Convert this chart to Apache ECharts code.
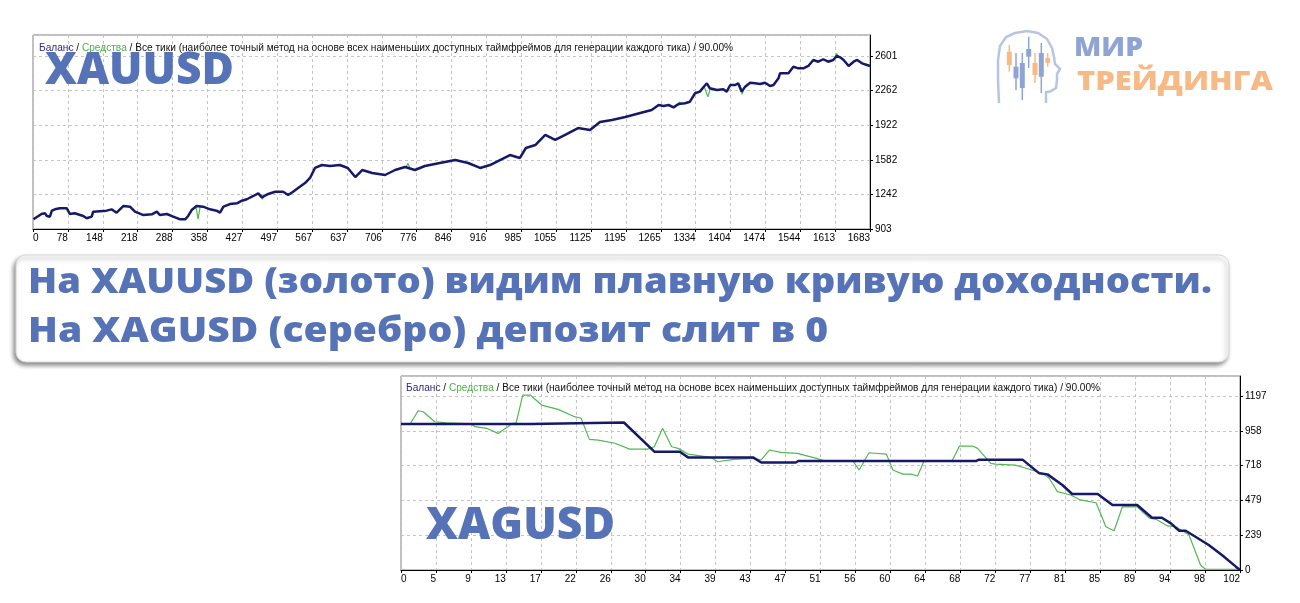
<!DOCTYPE html>
<html><head><meta charset="utf-8">
<script src="https://cdn.jsdelivr.net/npm/echarts@6/dist/echarts.min.js"></script>
<style>html,body{margin:0;padding:0;background:#fff}#c{width:1300px;height:603px}</style>
</head><body><div id="c"></div>
<script>
// ---------- XAUUSD ----------
const xauXLabels = ['0','78','148','218','288','358','427','497','567','637','706','776','846','916','985','1055','1125','1195','1265','1334','1404','1474','1544','1613','1683'];
const xauYLabels = ['903','1242','1582','1922','2262','2601'];
const xauTrades = [1,7,17,24,28,34,38,44,54,68,74,84,101,108,118,121,148,158,168,182,195,205,222,239,249,255,269,282,296,306,312,319,329,342,356,369,376,383,396,410,420,430,443,453,460,473,487,503,513,523,533,547,557,567,581,597,617,633,648,662,682,708,728,748,768,788,818,849,875,899,919,939,959,979,991,1010,1030,1050,1070,1096,1120,1140,1164,1191,1221,1244,1258,1268,1278,1288,1298,1311,1321,1331,1341,1348,1355,1361,1375,1388,1395,1402,1412,1418,1425,1432,1442,1452,1462,1472,1482,1489,1499,1502,1519,1529,1539,1549,1559,1569,1579,1589,1599,1609,1616,1623,1630,1640,1650,1657,1667,1677,1683];
const xauBalance = [998,1018,1050,1057,1031,1024,1083,1096,1106,1106,1050,1057,1031,1008,1024,1073,1083,1096,1063,1129,1122,1073,1040,1047,1073,1040,1050,1024,998,998,1031,1089,1129,1122,1096,1083,1063,1122,1148,1155,1181,1195,1227,1253,1214,1247,1269,1269,1237,1269,1305,1354,1404,1502,1531,1521,1531,1502,1413,1482,1453,1433,1482,1512,1482,1521,1551,1580,1551,1502,1531,1580,1629,1600,1698,1727,1826,1777,1826,1894,1875,1953,1973,2002,2041,2071,2120,2110,2120,2097,2130,2137,2152,2235,2251,2294,2333,2284,2267,2274,2251,2316,2316,2333,2251,2300,2339,2333,2326,2339,2307,2316,2382,2431,2431,2496,2480,2480,2503,2562,2545,2569,2545,2562,2601,2588,2562,2503,2545,2562,2529,2513,2503];
// equity deviations (short spikes, '-' breaks the line)
const xauEqTrades = [328,332,336,337,458,461,464,465,750,754,758,759,1296,1300,1304,1305,1350,1357,1362,1363,1422,1426,1430,1431,1612,1616,1620];
const xauEquity   = [1110,1000,1120,'-',1240,1195,1214,'-',1512,1545,1500,'-',2110,2150,2130,'-',2294,2200,2284,'-',2316,2225,2290,'-',2580,2625,2590];

// ---------- XAGUSD ----------
const xagXLabels = ['0','5','9','13','17','22','26','30','34','39','43','47','51','56','60','64','68','72','77','81','85','89','94','98','102'];
const xagYLabels = ['0','239','479','718','958','1197'];
const xagBalTrades = [0,15.8,15.9,27.1,30.8,33.9,34.9,42.8,43.8,48,48.3,69.9,70.2,75.6,77.6,78.6,80.4,81.6,84.7,86.5,89.5,91.3,92.5,93.6,94.6,95.4,98.2,99.8,101.5,102];
const xagBalance   = [1005,1005,1015,1015,814,814,775,775,740,740,750,750,758,758,665,658,585,523,523,447,447,360,360,321,270,270,172,103,23,0];
const xagEqTrades = [0,1.1,2.1,2.7,4.1,5.5,8.5,9,10.4,11.8,13,13.4,14,14.8,15.7,17.1,19.1,21.1,21.9,22.9,24,26,27.8,30,30.8,31.8,32.9,33.7,34.9,37.7,38.5,40.5,42.8,43.8,44.8,46.2,48.2,50.5,51.5,54.9,55.7,56.9,59,59.8,61,62,62.8,63.6,67,67.9,69.5,70.1,71.7,72.3,74.7,76,78,78.8,79.8,81.4,82.6,84.5,85.7,86.7,87.7,89.5,91,91.8,93.2,94.2,95.8,97.2,97.8,102];
const xagEquity   = [1005,1005,1096,1089,1020,1013,1005,986,975,940,986,1005,1013,1204,1204,1135,1105,1055,1044,899,894,872,832,832,848,975,848,837,798,775,745,761,768,757,826,810,803,768,752,752,688,807,798,688,660,660,647,752,752,853,853,837,734,729,722,700,665,631,539,516,482,463,298,270,435,435,356,349,303,298,241,34,5,5];

const titleText = 'Все тики (наиболее точный метод на основе всех наименьших доступных таймфреймов для генерации каждого тика) / 90.00%';
const boxLine1 = 'На XAUUSD (золото) видим плавную кривую доходности.';
const boxLine2 = 'На XAGUSD (серебро) депозит слит в 0';

const NAVY = '#16196a', GREEN = '#52b852', BLUE = '#5773b8';
const LF = 'Liberation Sans';

function pairs(xs, ys){ return xs.map((x,i)=>[x, ys[i]]); }
function tickFormatter(min, step, labels){
  return function(v){
    const k = Math.round((v-min)/step);
    if (Math.abs(v-(min+k*step)) < step*0.01 && k>=0 && k<labels.length) return labels[k];
    return '';
  };
}
const ctx = document.createElement('canvas').getContext('2d');
function fit(text, font, w){ ctx.font = font; return w / ctx.measureText(text).width; }

const dash = {show:true, lineStyle:{color:'#c4c4c4', type:[3,3], width:1}};
function xAx(gi, max, labels){
  return {type:'value', gridIndex:gi, min:0, max:max, interval:max/24,
    axisLine:{show:true, onZero:false, lineStyle:{color:'#000', width:1}},
    axisTick:{show:true, length:3, lineStyle:{color:'#000'}},
    axisLabel:{formatter: tickFormatter(0, max/24, labels), align:'right', alignMinLabel:'left', margin:4,
      color:'#000', fontSize:10, fontFamily:LF},
    splitLine: dash};
}
function yAx(gi, min, step, max, labels){
  return {type:'value', gridIndex:gi, position:'right', min:min, max:max, interval:step,
    axisLine:{show:true, onZero:false, lineStyle:{color:'#000', width:1}},
    axisTick:{show:true, length:3, lineStyle:{color:'#000'}},
    axisLabel:{formatter: tickFormatter(min, step, labels), margin:5, color:'#000', fontSize:10, fontFamily:LF, showMaxLabel:false},
    splitLine: dash};
}
function title(left, top){
  return {left:left, top:top, text:'{a|Баланс} / {b|Средства} / ' + titleText,
    textStyle:{fontSize:10.15, fontWeight:'normal', color:'#111', fontFamily:LF,
      rich:{a:{color:'#2c2c8c', fontSize:10.15, fontFamily:LF}, b:{color:'#4cb04c', fontSize:10.15, fontFamily:LF}}}};
}

const bigFont = '800 44px "Open Sans"';
const boxFont = '800 36px "Open Sans"';
const logoFont = '800 27px "Open Sans"';
function txt(text, x, y, font, fill, w){
  return {type:'text', x:x, y:y, scaleX: fit(text, font, w), z:10,
    style:{text:text, font:font, fill:fill, align:'left', verticalAlign:'middle', textAlign:'left', textVerticalAlign:'middle'}};
}
function candle(x, wt, wb, bt, bb, color){
  return [
    {type:'line', shape:{x1:x, y1:wt, x2:x, y2:wb}, style:{stroke:color, lineWidth:1.5}, z:10},
    {type:'rect', shape:{x:x-2.5, y:bt, width:5, height:bb-bt}, style:{fill:color}, z:11}
  ];
}
const LOGO_B = '#8fa3d4', LOGO_O = '#f7b985';

const option = {
  animation:false,
  backgroundColor:'#fff',
  title:[title(34, 38), title(401, 378)],
  grid:[
    {left:33, top:35, width:837, height:194, show:true, borderColor:'#808080', borderWidth:1, backgroundColor:'#fff'},
    {left:401, top:376, width:839, height:194, show:true, borderColor:'#808080', borderWidth:1, backgroundColor:'#fff'}
  ],
  xAxis:[xAx(0, 1683, xauXLabels), xAx(1, 102, xagXLabels)],
  yAxis:[yAx(0, 903, 339.6, 2807, xauYLabels), yAx(1, 0, 239.4, 1335, xagYLabels)],
  series:[
    {type:'line', xAxisIndex:0, yAxisIndex:0, data:pairs(xauEqTrades, xauEquity), showSymbol:false, connectNulls:false,
      lineStyle:{color:GREEN, width:1.2}, z:2},
    {type:'line', xAxisIndex:0, yAxisIndex:0, data:pairs(xauTrades, xauBalance), showSymbol:false,
      lineStyle:{color:NAVY, width:2.5}, z:3},
    {type:'line', xAxisIndex:1, yAxisIndex:1, data:pairs(xagEqTrades, xagEquity), showSymbol:false,
      lineStyle:{color:GREEN, width:1.2}, z:2},
    {type:'line', xAxisIndex:1, yAxisIndex:1, data:pairs(xagBalTrades, xagBalance), showSymbol:false,
      lineStyle:{color:NAVY, width:2.5}, z:3}
  ],
  graphic:[
    {type:'rect', shape:{x:16, y:255, width:1213, height:107, r:10}, z:5,
      style:{fill:'#fff', stroke:'#d8d8d8', lineWidth:1, shadowBlur:4, shadowColor:'rgba(0,0,0,0.45)', shadowOffsetX:-2, shadowOffsetY:3}},
    txt(boxLine1, 28, 283, boxFont, BLUE, 1184),
    txt(boxLine2, 28, 332, boxFont, BLUE, 800),
    txt('XAUUSD', 45, 71, bigFont, BLUE, 189),
    txt('XAGUSD', 426, 526, bigFont, BLUE, 189),
    txt('МИР', 1074, 48, logoFont, LOGO_B, 69),
    txt('ТРЕЙДИНГА', 1077, 82, logoFont, LOGO_O, 196),
    {type:'polyline', z:10, shape:{points:[[999,103],[998,80],[998,60],[1000,46],[1006,37],[1015,33],[1027,31],[1038,33],[1047,39],[1052,48],[1054,57],[1055,64],[1060,69],[1057,74],[1057,80],[1056,88],[1050,91.5],[1046,92],[1046,103]]},
      style:{stroke:'#b7c4e4', lineWidth:2.5, fill:null}},
    ...candle(1009.3, 45, 71.7, 51.7, 65, LOGO_O),
    ...candle(1016, 53, 90, 66.7, 78.3, LOGO_B),
    ...candle(1022.3, 53, 100, 63, 88, LOGO_B),
    ...candle(1028.7, 36.7, 68, 49, 56.7, LOGO_B),
    ...candle(1035, 53, 83, 63, 75, LOGO_O),
    ...candle(1041.3, 43, 93, 53, 76.7, LOGO_B),
    ...candle(1047.7, 53, 66.7, 58, 62.7, LOGO_O)
  ]
};
echarts.init(document.getElementById('c'), null, {renderer:'canvas'}).setOption(option);
</script></body></html>
